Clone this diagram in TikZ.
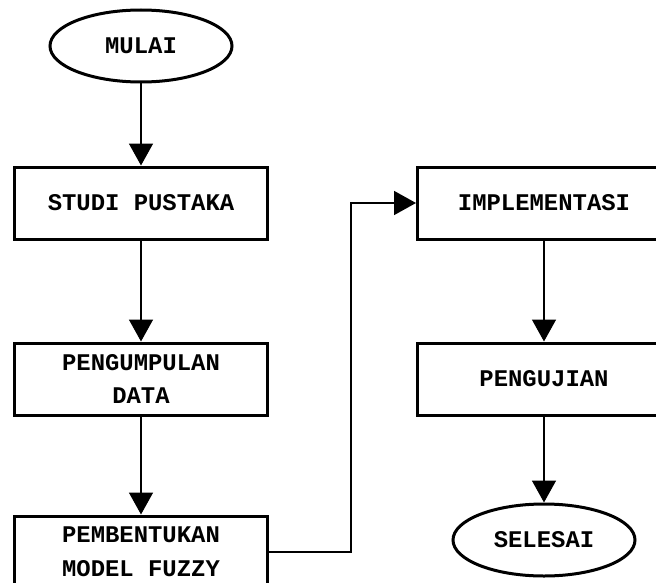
\documentclass[tikz,border=0pt]{standalone}
\usepackage{fontspec}
\setmonofont{Liberation Mono}
\usetikzlibrary{shapes.geometric, arrows.meta, positioning}

\begin{document}
\begin{tikzpicture}[every node/.style={font=\ttfamily\bfseries\fontsize{17}{24}\selectfont}]

\tikzset{
  flowline/.style={-{Triangle[length=5.5mm, width=6mm]}, line width=0.4mm, black},
  terminal/.style={ellipse, draw=black, line width=0.75mm,
    minimum width=45.5mm, minimum height=18mm},
  stepbox/.style={rectangle, draw=black, line width=0.75mm, align=center,
    minimum width=63.25mm, minimum height=18mm},
}

% ---- frame of the page ----
\clip (0,0) rectangle (164mm,-145.5mm);

% ---- left column ----
\node[terminal] (mulai) at (35.25mm,-11.5mm) {MULAI};
\node[stepbox, below=20.5mm of mulai] (studi) {STUDI PUSTAKA};
\node[stepbox, below=25.25mm of studi] (kumpul) {PENGUMPULAN\\DATA};
\node[stepbox, below=24.5mm of kumpul] (bentuk) {PEMBENTUKAN\\MODEL FUZZY};

% ---- right column ----
\node[stepbox, right=36.75mm of studi] (impl) {IMPLEMENTASI};
\node[stepbox, below=25.25mm of impl] (uji) {PENGUJIAN};
\node[terminal, below=21.5mm of uji] (selesai) {SELESAI};

\draw[flowline] (mulai) -- (studi);
\draw[flowline] (studi) -- (kumpul);
\draw[flowline] (kumpul) -- (bentuk);
\draw[flowline] (bentuk.east) -- ++(20.5mm,0) |- (impl.west);
\draw[flowline] (impl) -- (uji);
\draw[flowline] (uji) -- (selesai);

\end{tikzpicture}
\end{document}
